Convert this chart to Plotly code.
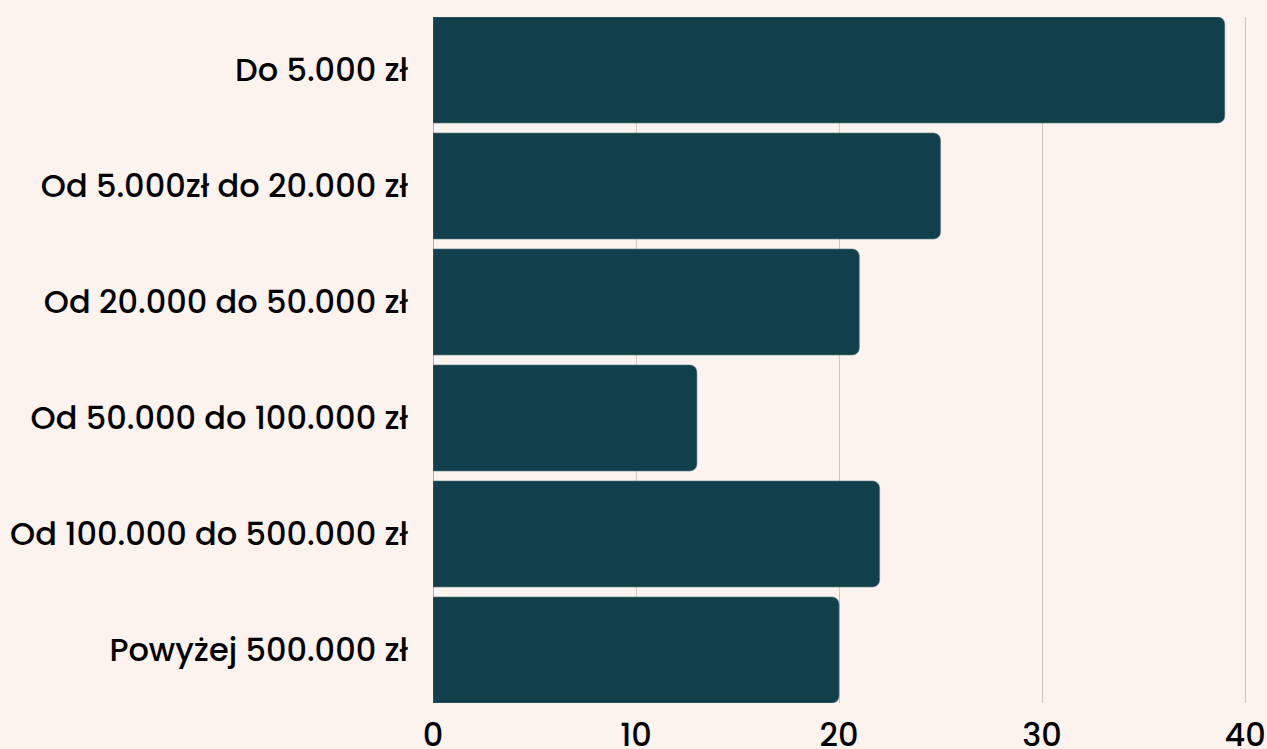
import plotly.graph_objects as go

categories = ["Do 5.000 zł", "Od 5.000zł do 20.000 zł", "Od 20.000 do 50.000 zł",
              "Od 50.000 do 100.000 zł", "Od 100.000 do 500.000 zł", "Powyżej 500.000 zł"]
values = [39, 25, 21, 13, 22, 20]
tick_vals = [0, 10, 20, 30, 40]

BG = "#fcf3ee"
BAR = "#123f4c"
FONT = "Poppins, Inter, 'Open Sans', sans-serif"

fig = go.Figure(go.Bar(
    x=values, y=categories, orientation="h",
    marker=dict(color=BAR, line=dict(color="#5f7a82", width=0.6), cornerradius=7),
    hoverinfo="x+y",
))

bg = 0.086
fig.update_layout(
    width=1267, height=749,
    paper_bgcolor=BG, plot_bgcolor=BG,
    margin=dict(l=433, r=0, t=17, b=46, autoexpand=False),
    bargap=bg,
    showlegend=False,
    font=dict(family=FONT, color="#000000"),
)
fig.update_xaxes(
    range=[0, 41.08], tickvals=tick_vals, ticktext=[str(v) for v in tick_vals],
    showgrid=True, gridcolor="#cfc6c2", gridwidth=1,
    zeroline=True, zerolinecolor="#b5aeab", zerolinewidth=1,
    showline=False, ticks="", automargin=False,
    tickfont=dict(size=32, family=FONT, color="#000", weight=500),
    ticklabelstandoff=10,
)
fig.update_yaxes(
    categoryorder="array", categoryarray=categories, autorange=False,
    range=[5 + (1 - bg) / 2, -(1 - bg) / 2],
    showgrid=False, zeroline=False, showline=False, ticks="", automargin=False,
    tickfont=dict(size=32, family=FONT, color="#000", weight=500),
    ticklabelstandoff=24,
)

fig.write_html(
    "out.html",
    config={"displayModeBar": False},
    post_script="document.body.style.margin='0';document.body.style.background='#fcf3ee';",
)
